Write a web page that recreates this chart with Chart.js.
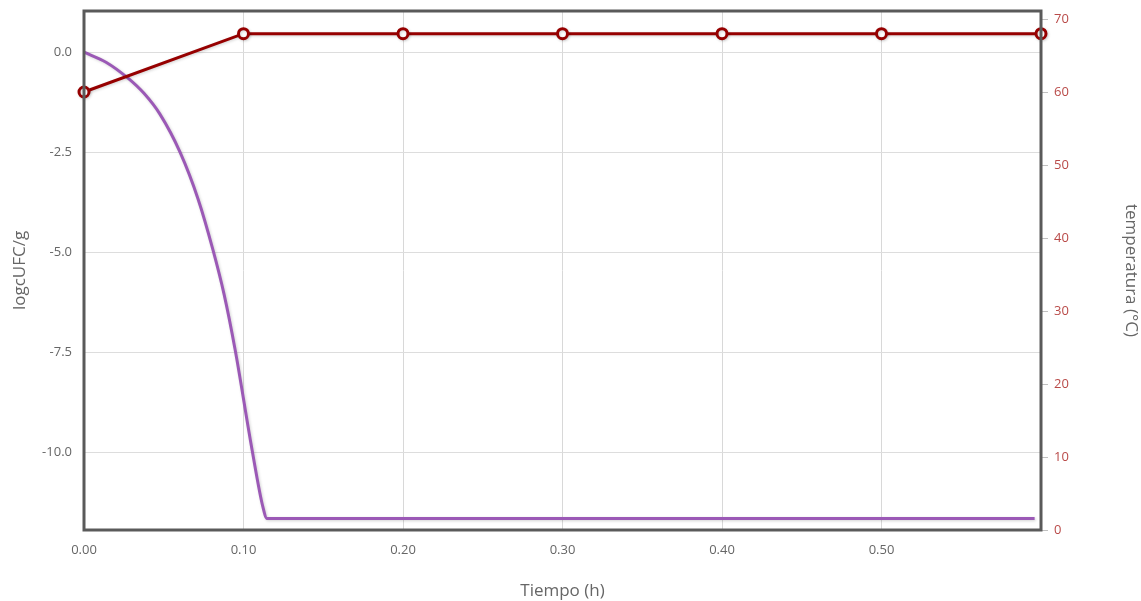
<!DOCTYPE html>
<html>
<head>
<meta charset="utf-8">
<script src="https://cdn.jsdelivr.net/npm/chart.js@4/dist/chart.umd.min.js"></script>
<style>
  html, body { margin: 0; padding: 0; background: #fff; }
  #wrap { width: 1141px; height: 601px; position: relative; }
</style>
</head>
<body>
<div id="wrap"><canvas id="c" width="1141" height="601"></canvas></div>
<script>
// ---- Data ----
const logTime  = [0, 0.0138, 0.0276, 0.0376, 0.0476, 0.0602, 0.0715, 0.0809, 0.0878, 0.0947, 0.1053, 0.1122, 0.1147, 0.596];
const logCFU   = [0, -0.25, -0.65, -1.03, -1.55, -2.50, -3.67, -4.95, -6.05, -7.43, -9.93, -11.38, -11.66, -11.66];
const tempTime = [0, 0.1, 0.2, 0.3, 0.4, 0.5, 0.6];
const tempVals = [60, 68, 68, 68, 68, 68, 68];
const xTickValues = [0, 0.1, 0.2, 0.3, 0.4, 0.5];
const xTickLabels = ['0.00', '0.10', '0.20', '0.30', '0.40', '0.50'];
const yLeftTickValues = [-10, -7.5, -5, -2.5, 0];
const yLeftTickLabels = ['-10.0', '-7.5', '-5.0', '-2.5', '0.0'];
const yRightTickValues = [0, 10, 20, 30, 40, 50, 60, 70];
const yRightTickLabels = ['0', '10', '20', '30', '40', '50', '60', '70'];

const FONT = "'Open Sans', 'DejaVu Sans', sans-serif";

const frame = {
  id: 'frame',
  afterDatasetsDraw(chart) {
    const { ctx, chartArea: a } = chart;
    ctx.save();
    ctx.strokeStyle = '#5a5a5a';
    ctx.lineWidth = 3;
    ctx.strokeRect(a.left, a.top, a.right - a.left, a.bottom - a.top);
    ctx.restore();
  }
};
const lineShadow = {
  id: 'lineShadow',
  beforeDatasetDraw(chart) {
    const ctx = chart.ctx;
    ctx.save();
    ctx.shadowColor = 'rgba(0,0,0,0.18)';
    ctx.shadowBlur = 3;
    ctx.shadowOffsetX = 1;
    ctx.shadowOffsetY = 1;
  },
  afterDatasetDraw(chart) { chart.ctx.restore(); }
};

function noPad(s) { s.paddingTop = 0; s.paddingBottom = 0; s.paddingLeft = 0; s.paddingRight = 0; }

new Chart(document.getElementById('c'), {
  type: 'line',
  data: {
    datasets: [
      {
        label: 'logcUFC/g',
        data: logTime.map((t, i) => ({ x: t, y: logCFU[i] })),
        yAxisID: 'yL',
        borderColor: '#9b59b6',
        borderWidth: 3,
        pointRadius: 0,
        cubicInterpolationMode: 'monotone',
        order: 2
      },
      {
        label: 'temperatura',
        data: tempTime.map((t, i) => ({ x: t, y: tempVals[i] })),
        yAxisID: 'yR',
        borderColor: '#960000',
        borderWidth: 3,
        pointRadius: 5,
        pointBorderWidth: 3,
        pointBackgroundColor: '#ffffff',
        pointBorderColor: '#960000',
        tension: 0,
        clip: false,
        order: 1
      }
    ]
  },
  options: {
    responsive: false,
    animation: false,
    layout: { padding: { top: 11, right: 0, bottom: 0, left: 0 } },
    plugins: { legend: { display: false }, tooltip: { enabled: false } },
    scales: {
      x: {
        type: 'linear',
        min: 0, max: 0.6,
        afterBuildTicks(s) { s.ticks = xTickValues.map(v => ({ value: v })); },
        afterFit(s) { s.height = 71; noPad(s); },
        grid: { color: '#d8d8d8', lineWidth: 1, drawTicks: false },
        border: { display: false },
        ticks: {
          padding: 12,
          color: '#666666',
          font: { family: FONT, size: 13 },
          callback: (v) => { const i = xTickValues.findIndex(x => Math.abs(x - v) < 1e-9); return i >= 0 ? xTickLabels[i] : ''; }
        },
        title: { display: true, text: 'Tiempo (h)', color: '#666666', font: { family: FONT, size: 17 }, padding: { top: 10, bottom: 0 } }
      },
      yL: {
        type: 'linear',
        position: 'left',
        min: -11.95, max: 1.03,
        afterBuildTicks(s) { s.ticks = yLeftTickValues.map(v => ({ value: v })); },
        afterFit(s) { s.width = 84; noPad(s); },
        grid: { color: '#dddddd', lineWidth: 1, drawTicks: false },
        border: { display: false },
        ticks: {
          padding: 12,
          color: '#666666',
          font: { family: FONT, size: 13 },
          callback: (v) => { const i = yLeftTickValues.indexOf(v); return i >= 0 ? yLeftTickLabels[i] : ''; }
        },
        title: { display: true, text: 'logcUFC/g', color: '#666666', font: { family: FONT, size: 17 }, padding: { top: 10, bottom: 0 } }
      },
      yR: {
        type: 'linear',
        position: 'right',
        min: 0, max: 71.1,
        afterBuildTicks(s) { s.ticks = yRightTickValues.map(v => ({ value: v })); },
        afterFit(s) { s.width = 100; noPad(s); },
        grid: { drawOnChartArea: false, color: '#c0c0c0', tickLength: 7, lineWidth: 1 },
        border: { display: false },
        ticks: {
          padding: 6,
          color: '#b94a48',
          font: { family: FONT, size: 13 },
          callback: (v) => { const i = yRightTickValues.indexOf(v); return i >= 0 ? yRightTickLabels[i] : ''; }
        },
        title: { display: true, text: 'temperatura (°C)', color: '#666666', font: { family: FONT, size: 17 }, padding: { top: 0, bottom: 4 } }
      }
    }
  },
  plugins: [lineShadow, frame]
});
</script>
</body>
</html>
